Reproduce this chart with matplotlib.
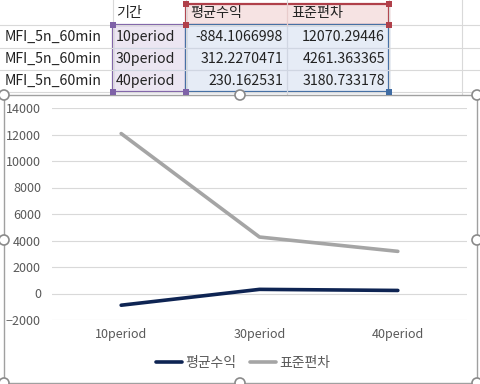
import matplotlib
matplotlib.use("Agg")
import matplotlib.pyplot as plt
from matplotlib.patches import Rectangle, Circle

plt.rcParams['font.family'] = ['Noto Sans CJK KR', 'DejaVu Sans']

# Data
row_labels = ["MFI_5n_60min", "MFI_5n_60min", "MFI_5n_60min"]
periods = ["10period", "30period", "40period"]
mean_return = [-884.1066998, 312.2270471, 230.162531]
std_dev = [12070.29446, 4261.363365, 3180.733178]
headers = ["기간", "평균수익", "표준편차"]
yticks = [-2000, 0, 2000, 4000, 6000, 8000, 10000, 12000, 14000]

W, H = 481, 384
fig = plt.figure(figsize=(W / 100, H / 100), dpi=100)

# background layer in pixel coords (spreadsheet part)
bg = fig.add_axes([0, 0, 1, 1])
bg.set_xlim(0, W)
bg.set_ylim(H, 0)
bg.axis("off")

grid_c = "#d9d9d9"
for x in [113, 186, 287, 389, 462]:
    bg.plot([x, x], [0, 95], color=grid_c, lw=0.8)
for y in [25, 48, 70, 92]:
    bg.plot([0, W], [y, y], color=grid_c, lw=0.8)

# highlighted ranges
bg.add_patch(Rectangle((186, 4), 203, 21, facecolor="#f6e3e3", edgecolor="#b0404a", lw=1.6))
bg.add_patch(Rectangle((113, 25), 73, 67, facecolor="#ece6f2", edgecolor="#7f62a8", lw=1.6))
bg.add_patch(Rectangle((186, 25), 203, 67, facecolor="#e6ecf6", edgecolor="#3f6ca3", lw=1.6))
bg.plot([287, 287], [25, 92], color="#d0d6e2", lw=0.8)
bg.plot([287, 287], [4, 25], color="#e8cccc", lw=0.8)
for y in [48, 70]:
    bg.plot([113, 389], [y, y], color="#d0d6e2", lw=0.8)
for (x, y, c) in [(186, 4, "#b0404a"), (389, 4, "#b0404a"), (186, 25, "#b0404a"), (389, 25, "#b0404a"),
                  (113, 25, "#7f62a8"), (113, 92, "#7f62a8"), (186, 92, "#7f62a8"), (389, 92, "#3f6ca3")]:
    bg.add_patch(Rectangle((x - 3, y - 3), 6, 6, facecolor=c, edgecolor="none", zorder=5))

fs = 10.2
tc = "#222222"
bg.text(116, 13, headers[0], fontsize=fs, color=tc, va="center")
bg.text(190, 13, headers[1], fontsize=fs, color=tc, va="center")
bg.text(291, 13, headers[2], fontsize=fs, color=tc, va="center")
for i in range(3):
    y = 37 + i * 22
    bg.text(5, y, row_labels[i], fontsize=fs, color=tc, va="center")
    bg.text(116, y, periods[i], fontsize=fs, color=tc, va="center")
    bg.text(283, y, f"{mean_return[i]:.7f}".rstrip("0"), fontsize=fs, color=tc, va="center", ha="right")
    bg.text(385, y, f"{std_dev[i]:.6f}".rstrip("0"), fontsize=fs, color=tc, va="center", ha="right")

# chart area
bg.add_patch(Rectangle((4, 95), 473, 288, facecolor="white", edgecolor="#a0a0a0", lw=1.0, zorder=3))
for (x, y) in [(4, 95), (240, 95), (477, 95), (4, 240), (477, 240), (4, 383), (240, 383), (477, 383)]:
    bg.add_patch(Circle((x, y), 5, facecolor="white", edgecolor="#8a8a8a", lw=1.2, zorder=6))

ax = fig.add_axes([52 / W, 1 - 320 / H, 415 / W, (320 - 108) / H], zorder=4)
ax.set_facecolor("none")
x = range(len(periods))
ax.plot(x, mean_return, color="#0e2453", lw=2.6, label=headers[1], solid_capstyle="round")
ax.plot(x, std_dev, color="#a5a5a5", lw=2.6, label=headers[2], solid_capstyle="round")
ax.set_xlim(-0.5, 2.5)
ax.set_ylim(-2000, 14000)
ax.set_yticks(yticks)
ax.set_xticks(list(x))
ax.set_xticklabels(periods)
ax.grid(axis="y", color="#d9d9d9", lw=0.8)
ax.set_axisbelow(True)
for s in ax.spines.values():
    s.set_visible(False)
ax.tick_params(length=0, labelsize=9, colors="#595959")
ax.tick_params(axis="y", pad=8)
ax.tick_params(axis="x", pad=6)

fig.legend(loc="center", bbox_to_anchor=(243 / W, 1 - 363 / H), ncol=2, frameon=False,
           fontsize=10, handlelength=1.9, columnspacing=1.0, handletextpad=0.2,
           labelcolor="#595959")

fig.savefig("out.png", dpi=100)
